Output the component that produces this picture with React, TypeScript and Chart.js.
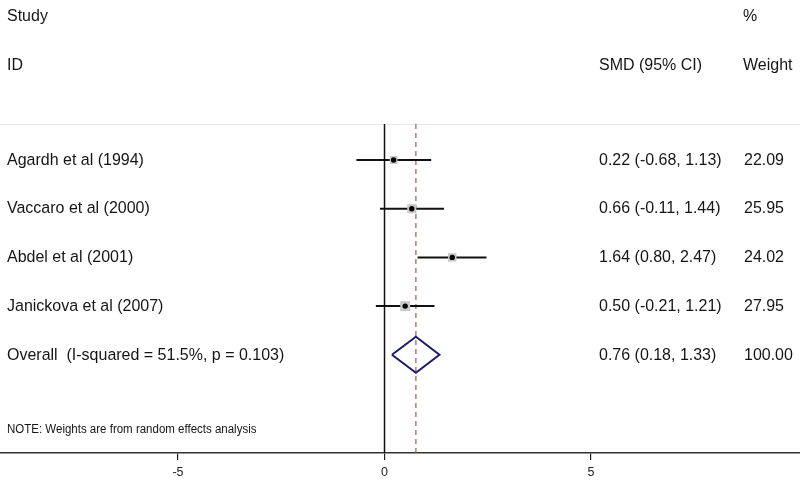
import React, { useEffect, useRef } from "react";
import { Chart, registerables } from "chart.js";

Chart.register(...registerables);

// ---- data ----
const studies = [
  "Agardh et al (1994)",
  "Vaccaro et al (2000)",
  "Abdel et al (2001)",
  "Janickova et al (2007)",
];
const smd = [0.22, 0.66, 1.64, 0.5];
const lower = [-0.68, -0.11, 0.8, -0.21];
const upper = [1.13, 1.44, 2.47, 1.21];
const weights = [22.09, 25.95, 24.02, 27.95];
const ciLabels = [
  "0.22 (-0.68, 1.13)",
  "0.66 (-0.11, 1.44)",
  "1.64 (0.80, 2.47)",
  "0.50 (-0.21, 1.21)",
];
const weightLabels = ["22.09", "25.95", "24.02", "27.95"];
const overallLabel = "Overall  (I-squared = 51.5%, p = 0.103)";
const overallSmd = 0.76;
const overallLower = 0.18;
const overallUpper = 1.33;
const overallCiLabel = "0.76 (0.18, 1.33)";
const overallWeightLabel = "100.00";
const xTicks = [-5, 0, 5];
const noteText = "NOTE: Weights are from random effects analysis";

// ---- layout (row units on the y scale) ----
const Y_MIN = -2.285;
const Y_MAX = 7.016;
const ROW_STUDY_HDR = -1.95;
const ROW_ID_HDR = -0.95;
const ROW_SEP = 0.26;
const ROW_OVERALL = studies.length + 1;
const ROW_NOTE = 6.54;
const DIAMOND_HALF = 0.37;
const X_MIN = -9.31;
const X_MAX = 10.06;

const FONT = '"Liberation Sans", Arial, sans-serif';

export default function App() {
  const ref = useRef<HTMLCanvasElement | null>(null);

  useEffect(() => {
    if (!ref.current) return;
    const rows = studies.map((_, i) => i + 1);

    const ciDatasets = studies.map((_, i) => ({
      type: "line" as const,
      data: [
        { x: lower[i], y: rows[i] },
        { x: upper[i], y: rows[i] },
      ],
      borderColor: "#111",
      borderWidth: 2,
      pointRadius: 0,
      order: 3,
    }));

    const textPlugin = {
      id: "forestText",
      beforeDatasetsDraw(chart: any) {
        const { ctx } = chart;
        const ys = chart.scales.y;
        const y = ys.getPixelForValue(ROW_SEP);
        ctx.save();
        ctx.strokeStyle = "#e8e8e8";
        ctx.lineWidth = 1;
        ctx.beginPath();
        ctx.moveTo(0, Math.round(y) + 0.5);
        ctx.lineTo(chart.width, Math.round(y) + 0.5);
        ctx.stroke();
        ctx.restore();
      },
      afterDraw(chart: any) {
        const { ctx } = chart;
        const ys = chart.scales.y;
        const put = (t: string, x: number, row: number, size: number, width: number) => {
          const sx = width / size;
          ctx.save();
          ctx.fillStyle = "#151515";
          ctx.textBaseline = "middle";
          ctx.textAlign = "left";
          ctx.font = `${size}px ${FONT}`;
          ctx.translate(x, ys.getPixelForValue(row));
          ctx.scale(sx, 1);
          ctx.fillText(t, 0, 0);
          ctx.restore();
        };
        const big = (t: string, x: number, row: number) => put(t, x, row, 17.2, 16);
        big("Study", 7, ROW_STUDY_HDR);
        big("%", 743, ROW_STUDY_HDR);
        big("ID", 7, ROW_ID_HDR);
        big("SMD (95% CI)", 599, ROW_ID_HDR);
        big("Weight", 743, ROW_ID_HDR);
        studies.forEach((s, i) => {
          big(s, 7, i + 1);
          big(ciLabels[i], 599, i + 1);
          big(weightLabels[i], 744, i + 1);
        });
        big(overallLabel, 7, ROW_OVERALL);
        big(overallCiLabel, 599, ROW_OVERALL);
        big(overallWeightLabel, 744, ROW_OVERALL);
        put(noteText, 7, ROW_NOTE, 12.5, 11.5);
      },
    };

    const chart = new Chart(ref.current, {
      type: "scatter",
      data: {
        datasets: [
          // zero reference line
          {
            type: "line",
            data: [
              { x: 0, y: ROW_SEP },
              { x: 0, y: Y_MAX },
            ],
            borderColor: "#111",
            borderWidth: 1.5,
            pointRadius: 0,
            order: 5,
          },
          // overall dashed line
          {
            type: "line",
            data: [
              { x: overallSmd, y: ROW_SEP },
              { x: overallSmd, y: Y_MAX },
            ],
            borderColor: "#b4504c",
            borderWidth: 1.2,
            borderDash: [5, 4],
            pointRadius: 0,
            order: 4,
          },
          ...ciDatasets,
          // weight boxes
          {
            type: "scatter",
            data: smd.map((v, i) => ({ x: v, y: rows[i] })),
            pointStyle: "rect",
            pointRadius: weights.map((w) => w * 0.25),
            backgroundColor: "#c8c8c8",
            borderWidth: 0,
            order: 2,
          },
          // point estimates
          {
            type: "scatter",
            data: smd.map((v, i) => ({ x: v, y: rows[i] })),
            pointStyle: "circle",
            pointRadius: 2.7,
            backgroundColor: "#000",
            borderWidth: 0,
            order: 1,
          },
          // overall diamond
          {
            type: "line",
            data: [
              { x: overallLower, y: ROW_OVERALL },
              { x: overallSmd, y: ROW_OVERALL - DIAMOND_HALF },
              { x: overallUpper, y: ROW_OVERALL },
              { x: overallSmd, y: ROW_OVERALL + DIAMOND_HALF },
              { x: overallLower, y: ROW_OVERALL },
            ],
            borderColor: "#1c1c6b",
            borderWidth: 2,
            pointRadius: 0,
            tension: 0,
            order: 0,
          },
        ] as any,
      },
      options: {
        animation: false,
        responsive: false,
        devicePixelRatio: 1,
        layout: { padding: 0, autoPadding: false },
        plugins: {
          legend: { display: false },
          tooltip: { enabled: false },
        },
        scales: {
          x: {
            type: "linear",
            min: X_MIN,
            max: X_MAX,
            afterBuildTicks: (s: any) => {
              s.ticks = xTicks.map((v) => ({ value: v }));
            },
            afterFit: (s: any) => {
              s.height = 29;
              s.paddingLeft = 0;
              s.paddingRight = 0;
            },
            grid: {
              display: true,
              drawOnChartArea: false,
              drawTicks: true,
              tickLength: 7,
              color: "#222",
              lineWidth: 1.2,
            },
            border: { display: true, color: "#333", width: 1.5 },
            ticks: {
              font: { family: FONT, size: 12.5 },
              color: "#222",
              padding: 5,
              maxRotation: 0,
              callback: (v: any) => String(v),
            },
          },
          y: {
            type: "linear",
            display: false,
            reverse: true,
            min: Y_MIN,
            max: Y_MAX,
          },
        },
      },
      plugins: [textPlugin],
    });
    return () => chart.destroy();
  }, []);

  return (
    <div style={{ position: "fixed", left: 0, top: 0, width: 800, height: 482, background: "#fff" }}>
      <canvas ref={ref} width={800} height={482} />
    </div>
  );
}
